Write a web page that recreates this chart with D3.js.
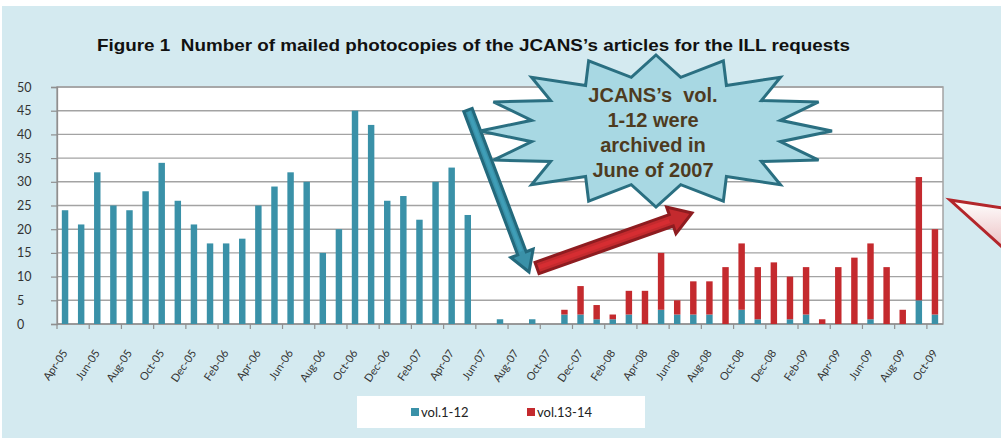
<!DOCTYPE html>
<html>
<head>
<meta charset="utf-8">
<script src="https://cdn.jsdelivr.net/npm/d3@7"></script>
<style>
  body { margin: 0; background: #fff; }
  svg { display: block; }
</style>
</head>
<body>
<svg width="1001" height="438"></svg>
<script>
// months on the x axis
const months = [
  "Apr-05","May-05","Jun-05","Jul-05","Aug-05","Sep-05","Oct-05","Nov-05","Dec-05",
  "Jan-06","Feb-06","Mar-06","Apr-06","May-06","Jun-06","Jul-06","Aug-06","Sep-06","Oct-06","Nov-06","Dec-06",
  "Jan-07","Feb-07","Mar-07","Apr-07","May-07","Jun-07","Jul-07","Aug-07","Sep-07","Oct-07","Nov-07","Dec-07",
  "Jan-08","Feb-08","Mar-08","Apr-08","May-08","Jun-08","Jul-08","Aug-08","Sep-08","Oct-08","Nov-08","Dec-08",
  "Jan-09","Feb-09","Mar-09","Apr-09","May-09","Jun-09","Jul-09","Aug-09","Sep-09","Oct-09"
];
const vol1_12 = [
  24,21,32,25,24,28,34,26,21,17,17,18,25,29,32,30,15,20,45,42,26,27,22,30,33,23,
  0,1,0,1,0,
  2,2,1,1,2,0,3,2,2,2,0,3,1,0,1,2,0,0,0,1,0,0,5,2
];
const vol13_14 = [
  0,0,0,0,0,0,0,0,0,0,0,0,0,0,0,0,0,0,0,0,0,0,0,0,0,0,
  0,0,0,0,0,
  1,6,3,1,5,7,12,3,7,7,12,14,11,13,9,10,1,12,14,16,12,3,26,18
];
const seriesNames = ["vol.1-12", "vol.13-14"];
const seriesColors = ["#3A91A8", "#C42A2E"];
const yTicks = [0,5,10,15,20,25,30,35,40,45,50];
const titleText = "Figure 1  Number of mailed photocopies of the JCANS\u2019s articles for the ILL requests";
const noteLines = ["JCANS\u2019s  vol.", "1-12 were", "archived in", "June of 2007"];

const svg = d3.select("svg");
const W = 1001, H = 438;
const pL = 57, pR = 943, pT = 87, pB = 324;

// background
svg.append("rect").attr("x", 0).attr("y", 0).attr("width", W).attr("height", H).attr("fill", "#fff");
svg.append("rect").attr("x", 2).attr("y", 6).attr("width", W - 2).attr("height", H - 6).attr("fill", "#D4EAF0");

// title (source looks horizontally stretched, so fit it to the measured width)
svg.append("text")
  .attr("x", 97).attr("y", 50.5)
  .attr("textLength", 753).attr("lengthAdjust", "spacingAndGlyphs")
  .style("font-family", "'Liberation Sans', Arial, sans-serif")
  .style("font-weight", "bold").style("font-size", "17px").style("white-space", "pre")
  .attr("fill", "#111")
  .text(titleText);

// scales
const x = d3.scaleBand().domain(months).range([pL, pR]).paddingInner(0.6).paddingOuter(0.3);
const y = d3.scaleLinear().domain([0, 50]).range([pB, pT]);
const step = x.step();

// plot area
svg.append("rect").attr("x", pL).attr("y", pT).attr("width", pR - pL).attr("height", pB - pT)
  .attr("fill", "#fff").attr("stroke", "#A3A3A3").attr("stroke-width", 1.5);

// gridlines
svg.append("g").selectAll("line").data(yTicks.filter(d => d > 0)).join("line")
  .attr("x1", pL).attr("x2", pR)
  .attr("y1", d => y(d)).attr("y2", d => y(d))
  .attr("stroke", "#A3A3A3").attr("stroke-width", 1.4);

// y axis
const yAxis = svg.append("g").attr("transform", `translate(${pL},0)`)
  .call(d3.axisLeft(y).tickValues(yTicks).tickSize(6).tickPadding(0));
yAxis.select(".domain").attr("stroke", "#8F8F8F").attr("stroke-width", 1.3);
yAxis.selectAll(".tick line").attr("stroke", "#8F8F8F").attr("stroke-width", 1.2);
yAxis.selectAll(".tick text")
  .attr("x", -40).attr("text-anchor", "start")
  .style("font-family", "Lato, 'Open Sans', sans-serif").style("font-size", "12.5px").attr("fill", "#333");

// x axis line + ticks every two months
svg.append("line").attr("x1", pL).attr("x2", pR).attr("y1", pB).attr("y2", pB)
  .attr("stroke", "#8F8F8F").attr("stroke-width", 1.3);
const tickIdx = d3.range(0, months.length + 1, 2);
svg.append("g").selectAll("line").data(tickIdx).join("line")
  .attr("x1", i => pL + i * step).attr("x2", i => pL + i * step)
  .attr("y1", pB).attr("y2", pB + 5)
  .attr("stroke", "#8F8F8F").attr("stroke-width", 1.2);

// x labels
const labelMonths = months.filter((m, i) => i % 2 === 0);
svg.append("g").selectAll("text").data(labelMonths).join("text")
  .attr("transform", m => `translate(${x(m) + x.bandwidth() / 2 + 3},353) rotate(-56)`)
  .attr("text-anchor", "end")
  .style("font-family", "Lato, 'Open Sans', sans-serif").style("font-size", "11px").attr("fill", "#333")
  .text(m => m);

// stacked bars
const table = months.map((m, i) => ({ month: m, a: vol1_12[i], b: vol13_14[i] }));
const stacked = d3.stack().keys(["a", "b"])(table);
svg.append("g").selectAll("g").data(stacked).join("g")
  .attr("fill", (d, i) => seriesColors[i])
  .selectAll("rect").data(d => d.filter(s => s[1] - s[0] > 0)).join("rect")
  .attr("x", d => x(d.data.month))
  .attr("width", x.bandwidth())
  .attr("y", d => y(d[1]))
  .attr("height", d => y(d[0]) - y(d[1]));

// legend
svg.append("rect").attr("x", 357).attr("y", 396).attr("width", 288).attr("height", 32).attr("fill", "#fff");
const lg = svg.append("g").selectAll("g").data(seriesNames).join("g")
  .attr("transform", (d, i) => `translate(${411 + i * 116},408)`);
lg.append("rect").attr("width", 8).attr("height", 8).attr("fill", (d, i) => seriesColors[i]);
lg.append("text").attr("x", 10).attr("y", 9)
  .style("font-family", "Lato, 'Open Sans', sans-serif").style("font-size", "13px").attr("fill", "#222")
  .text(d => d);

// block arrow helper (local shape along +x, then rotated)
function blockArrow(x0, y0, x1, y1, shaft, head, headLen, fill, stroke) {
  const len = Math.hypot(x1 - x0, y1 - y0);
  const ang = Math.atan2(y1 - y0, x1 - x0) * 180 / Math.PI;
  const s = shaft / 2, h = head / 2, b = len - headLen;
  const pts = [[0, -s], [b, -s], [b, -h], [len, 0], [b, h], [b, s], [0, s]];
  const g = svg.append("g").attr("transform", `translate(${x0},${y0}) rotate(${ang})`);
  g.append("polygon").attr("points", pts.map(p => p.join(",")).join(" "))
    .attr("fill", fill).attr("stroke", stroke).attr("stroke-width", 3).attr("stroke-linejoin", "miter");
  g.append("line").attr("x1", 2).attr("x2", b - 2).attr("y1", 0).attr("y2", 0)
    .attr("stroke", d3.color(fill).brighter(0.4)).attr("stroke-width", shaft * 0.35).attr("opacity", 0.6);
}

// starburst callout
const cx = 656, cy = 131, rx = 176, ry = 76, inner = 0.72, nPts = 16;
const star = [];
for (let k = 0; k < nPts * 2; k++) {
  const a = Math.PI * k / nPts;
  const r = k % 2 === 0 ? 1 : inner;
  star.push([cx + rx * r * Math.sin(a), cy - ry * r * Math.cos(a)]);
}

blockArrow(468, 110, 529, 272, 9, 24, 20, "#3A91A8", "#23697C");
svg.append("polygon").attr("points", star.map(p => p.join(",")).join(" "))
  .attr("fill", "#A8D8E3").attr("stroke", "#2A6F81").attr("stroke-width", 3).attr("stroke-linejoin", "miter");
blockArrow(537, 268, 692, 213, 12, 28, 22, "#C42A2E", "#8E1C20");

svg.append("g").selectAll("text").data(noteLines).join("text")
  .attr("x", 653).attr("y", (d, i) => 102 + i * 25)
  .attr("text-anchor", "middle")
  .style("font-family", "'Liberation Sans', Arial, sans-serif")
  .style("font-weight", "bold").style("font-size", "20px").attr("fill", "#4E3B1F")
  .style("white-space", "pre")
  .text(d => d);

// callout pointer cut at the right edge
const grad = svg.append("defs").append("linearGradient").attr("id", "pg")
  .attr("x1", 0).attr("y1", 0).attr("x2", 0).attr("y2", 1);
grad.append("stop").attr("offset", 0).attr("stop-color", "#fff");
grad.append("stop").attr("offset", 1).attr("stop-color", "#E9B8BA");
svg.append("polygon").attr("points", "950,200 1010,209 1010,254")
  .attr("fill", "url(#pg)").attr("stroke", "#B3262B").attr("stroke-width", 3).attr("stroke-linejoin", "miter");
</script>
</body>
</html>
